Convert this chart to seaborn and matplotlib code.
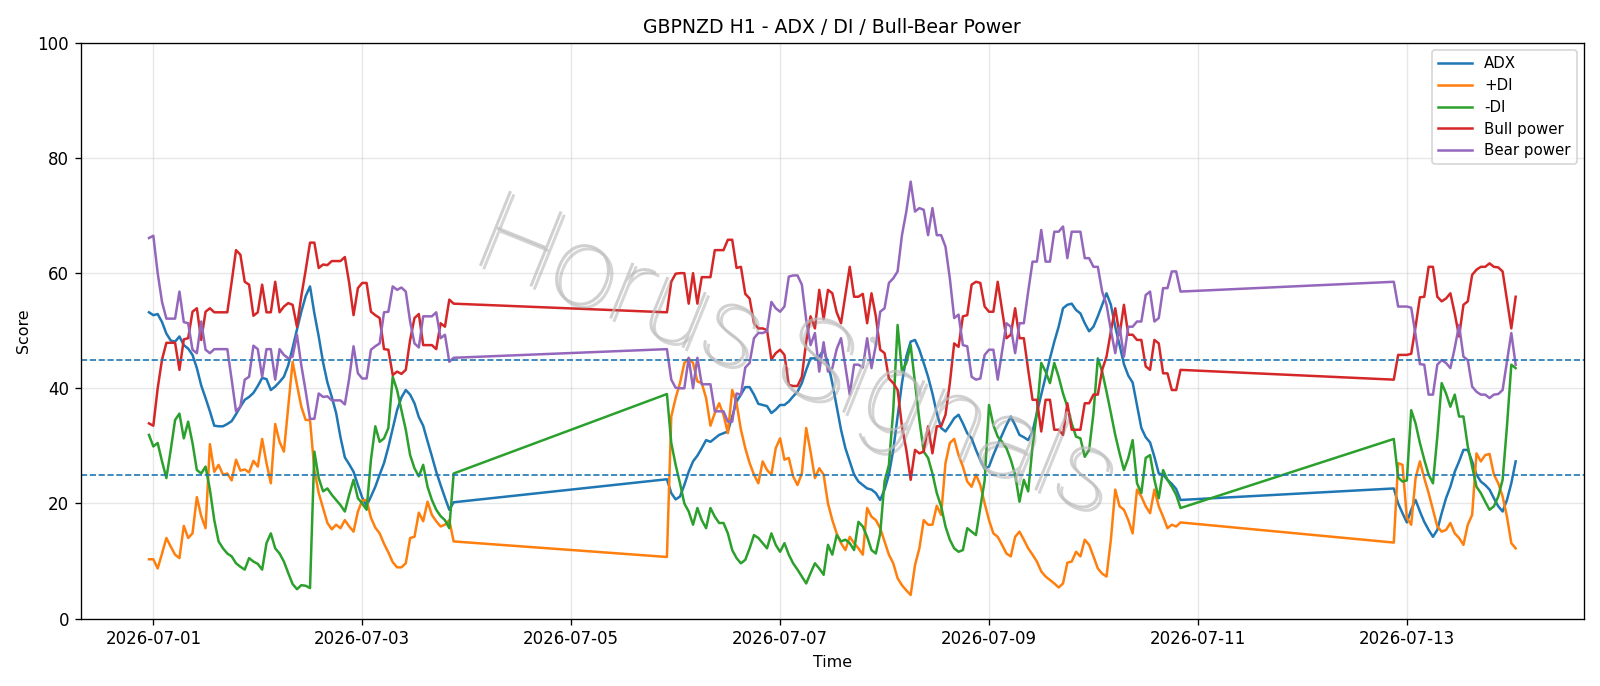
import seaborn as sns
import pandas as pd
import matplotlib
matplotlib.use('Agg')
import matplotlib.pyplot as plt
import matplotlib.dates as mdates
import matplotlib.patheffects as pe

# three trading blocks, hourly bars
seg_starts = ['2026-06-30 23:00', '2026-07-05 22:00', '2026-07-12 21:00']

adx_1 = [53.2, 52.7, 52.9, 51.5, 49.5, 48.3, 48.1, 49.0, 47.5, 46.9, 45.8,
         43.5, 40.5, 38.3, 36.0, 33.5, 33.4, 33.4, 33.8, 34.3, 35.5,
         36.8, 38.0, 38.5, 39.2, 40.4, 41.8, 41.6, 39.7, 40.3, 41.1,
         42.0, 44.0, 47.0, 50.2, 53.3, 56.0, 57.7, 53.0, 49.0, 44.5,
         41.0, 38.5, 35.7, 31.5, 28.0, 26.8, 25.5, 23.2, 21.0, 19.6,
         21.2, 22.9, 25.0, 27.0, 29.8, 33.0, 36.2, 38.4, 39.7, 38.9,
         37.4, 35.0, 33.5, 30.8, 28.2, 25.5, 23.2, 21.0, 18.9, 20.2]
pdi_1 = [10.3, 10.3, 8.7, 11.3, 14.0, 12.5, 11.1, 10.5, 16.1, 14.0, 14.8,
         21.1, 17.8, 15.7, 30.3, 25.5, 26.7, 25.0, 25.2, 24.0, 27.6,
         25.7, 25.9, 25.4, 27.4, 26.4, 31.2, 27.0, 23.5, 33.8, 30.7,
         29.0, 36.8, 44.6, 40.6, 36.8, 34.5, 34.5, 25.8, 21.8, 19.2,
         16.6, 15.5, 16.3, 15.7, 17.1, 16.0, 15.1, 18.6, 20.5, 20.6,
         17.5, 15.8, 14.8, 13.0, 11.5, 9.8, 8.9, 8.9, 9.6, 14.0,
         14.2, 18.4, 16.9, 20.3, 18.0, 16.9, 16.0, 16.3, 17.1, 13.4]
mdi_1 = [31.9, 29.9, 30.5, 27.3, 24.4, 29.3, 34.5, 35.6, 31.3, 34.2, 30.5,
         25.8, 25.2, 26.4, 22.4, 17.1, 13.4, 12.2, 11.3, 10.8, 9.6,
         9.0, 8.5, 10.5, 9.9, 9.5, 8.5, 13.1, 14.8, 12.2, 11.3,
         9.9, 7.9, 6.0, 5.1, 5.8, 5.7, 5.3, 29.0, 24.4, 22.1,
         22.6, 21.5, 20.6, 19.7, 18.6, 21.5, 24.1, 20.9, 20.0, 18.9,
         27.6, 33.4, 30.7, 31.3, 33.1, 42.0, 39.7, 36.2, 32.8, 28.4,
         26.1, 24.7, 26.7, 22.9, 20.6, 18.9, 17.8, 17.1, 15.7, 25.2]
bull_1 = [33.9, 33.5, 40.0, 45.0, 47.9, 47.9, 47.9, 43.2, 48.5, 48.7, 53.3,
          53.9, 48.4, 53.3, 53.9, 53.2, 53.2, 53.2, 53.2, 58.5, 64.0,
          63.2, 58.5, 58.0, 52.6, 53.2, 58.0, 53.2, 53.2, 58.5, 53.2,
          54.2, 54.8, 54.5, 50.7, 56.0, 60.5, 65.3, 65.3, 60.9, 61.5,
          61.4, 62.1, 62.1, 62.1, 62.8, 58.3, 52.7, 57.4, 58.3, 58.3,
          53.3, 52.7, 52.2, 46.8, 46.7, 42.3, 42.9, 42.5, 43.2, 48.4,
          52.2, 52.9, 47.5, 47.5, 47.5, 46.8, 51.3, 50.7, 55.4, 54.7]
bear_1 = [66.1, 66.5, 60.0, 55.0, 52.1, 52.1, 52.1, 56.8, 51.5, 51.3, 46.7,
          46.1, 51.6, 46.7, 46.1, 46.8, 46.8, 46.8, 46.8, 41.5, 36.0,
          36.8, 41.5, 42.0, 47.4, 46.8, 42.0, 46.8, 46.8, 41.5, 46.8,
          45.8, 45.2, 45.5, 49.3, 44.0, 39.5, 34.7, 34.7, 39.1, 38.5,
          38.6, 37.9, 37.9, 37.9, 37.2, 41.7, 47.3, 42.6, 41.7, 41.7,
          46.7, 47.3, 47.8, 53.2, 53.3, 57.7, 57.1, 57.5, 56.8, 51.6,
          47.8, 47.1, 52.5, 52.5, 52.5, 53.2, 48.7, 49.3, 44.6, 45.3]

adx_2 = [24.2, 21.8, 20.7, 21.2, 23.2, 25.5, 27.3, 28.3, 29.6, 31.0,
         30.7, 31.3, 31.9, 32.2, 32.5, 35.1, 37.7, 38.9, 40.2, 40.2,
         38.9, 37.3, 37.1, 36.9, 35.7, 36.3, 37.1, 37.1, 37.7, 38.6,
         39.4, 40.9, 43.2, 45.2, 45.2, 45.5, 46.7, 44.4, 40.9, 36.8,
         32.8, 29.6, 27.3, 25.0, 23.8, 23.2, 22.6, 22.4, 21.8, 20.6,
         22.4, 25.0, 29.3, 35.1, 40.9, 45.5, 48.1, 48.4, 46.7, 44.4,
         42.0, 39.1, 35.7, 33.1, 32.5, 33.6, 34.8, 35.4, 33.9, 32.2,
         31.3, 29.3, 27.5, 26.0, 26.4, 28.4, 30.2, 31.9, 33.6, 35.1,
         33.6, 31.9, 31.5, 31.0, 32.5, 35.7, 38.9, 42.0, 45.2, 48.1,
         50.7, 53.9, 54.5, 54.7, 53.6, 53.0, 51.3, 49.9, 50.7, 52.5,
         54.5, 56.5, 54.5, 50.7, 47.5, 44.2, 42.2, 41.0, 37.0, 33.1,
         31.5, 30.6, 28.1, 25.2, 25.0, 24.1, 23.4, 22.5, 20.6]
pdi_2 = [10.7, 35.1, 38.3, 40.9, 44.4, 45.2, 44.4, 41.2, 40.9, 38.3,
         33.5, 35.7, 37.4, 35.4, 32.2, 39.7, 37.4, 32.8, 29.6, 27.0,
         25.0, 23.5, 27.3, 25.8, 25.0, 29.6, 31.3, 27.6, 27.9, 24.7,
         23.2, 25.2, 33.1, 29.0, 24.4, 26.1, 25.0,
         20.0, 17.1, 14.8, 13.1, 11.9, 14.2, 13.1, 12.2, 11.1, 19.2,
         17.7, 17.1, 15.7, 13.4, 11.1, 9.6, 7.0, 5.8, 4.9, 4.1,
         9.3, 12.2, 17.1, 16.3, 16.3, 19.6, 18.0, 27.0, 30.5, 31.2,
         28.4, 26.4, 23.8, 22.9, 25.0,
         23.2, 20.0, 17.1, 14.8, 14.2, 12.8, 11.3, 10.8, 14.2, 15.1,
         13.7, 12.2, 11.1, 9.9, 8.2, 7.3, 6.7, 6.1, 5.4, 6.1,
         9.7, 9.9, 11.6, 10.8, 13.7, 12.8, 10.8, 8.7, 7.8, 7.3,
         13.7, 22.4, 19.5, 18.9, 17.1, 14.8, 22.4, 21.2, 19.5, 18.3,
         22.4, 19.5, 17.7, 15.7, 16.3, 16.0, 16.7]
mdi_2 = [39.0, 30.5, 26.7, 23.5, 20.0, 18.6, 16.3, 19.2, 17.1, 15.7,
         19.2, 17.7, 16.6, 16.6, 14.8, 11.9, 10.5, 9.6, 10.2, 12.2,
         14.5, 14.0, 13.1, 12.2, 14.8, 12.8, 11.6, 13.1, 11.1, 9.6,
         8.5, 7.3, 6.1, 7.9, 9.6, 8.7, 7.6,
         12.8, 11.1, 14.5, 13.4, 13.7, 13.1, 11.9, 16.8, 16.0, 14.2,
         11.9, 11.3, 14.8, 23.8, 26.7, 36.2, 51.0, 42.9, 44.4, 47.5,
         40.9, 34.5, 29.0, 27.9, 25.2, 21.8, 19.5, 16.0, 13.7, 12.2,
         11.6, 11.9, 15.7, 15.1, 14.5,
         19.2, 24.0, 37.1, 33.6, 31.6, 30.7, 29.6, 27.6, 25.0, 20.3,
         24.1, 22.1, 29.9, 35.7, 44.4, 42.9, 40.9, 44.4, 42.0, 39.1,
         36.8, 33.9, 31.6, 31.3, 28.1, 29.3, 35.7, 45.2, 42.9, 39.4,
         35.7, 31.9, 28.7, 25.8, 27.9, 31.0, 23.5, 21.8, 27.9, 28.4,
         24.1, 20.9, 25.8, 24.1, 22.9, 21.5, 19.2]
bull_2 = [53.2, 58.5, 59.9, 60.0, 60.0, 54.7, 60.0, 54.7, 59.3, 59.3,
          59.3, 64.0, 64.0, 64.0, 65.8, 65.8, 60.9, 61.1, 56.4, 55.6,
          51.3, 50.4, 50.4, 50.1, 45.0, 46.1, 46.7, 45.8, 40.6, 40.4,
          40.4, 42.0, 48.1, 52.5, 50.4, 57.1, 52.0,
          57.1, 56.5, 53.2, 51.3, 56.2, 61.1, 55.9, 55.9, 56.4, 51.3,
          56.5, 52.5, 46.7, 46.1, 41.7, 40.9, 39.7, 33.4, 29.3, 24.1,
          29.3, 28.7, 29.0, 33.4, 28.7, 33.4, 33.4, 35.4, 40.9, 47.8,
          47.2, 52.5, 52.7, 58.0, 58.5,
          58.3, 54.2, 53.3, 53.3, 58.5, 53.6, 48.7, 49.3, 53.9, 48.7,
          48.7, 43.2, 38.0, 38.0, 32.5, 38.0, 38.0, 32.8, 32.8, 31.9,
          37.4, 32.8, 32.8, 32.8, 37.4, 37.4, 38.9, 38.9, 43.2, 45.5,
          49.9, 53.9, 49.3, 54.5, 49.3, 49.3, 48.4, 48.4, 43.8, 43.2,
          48.4, 47.8, 42.6, 42.6, 39.7, 39.7, 43.2]
bear_2 = [46.8, 41.5, 40.1, 40.0, 40.0, 45.3, 40.0, 45.3, 40.7, 40.7,
          40.7, 36.0, 36.0, 36.0, 34.2, 34.2, 39.1, 38.9, 43.6, 44.4,
          48.7, 49.6, 49.6, 49.9, 55.0, 53.9, 53.3, 54.2, 59.4, 59.6,
          59.6, 58.0, 51.9, 47.5, 49.6, 42.9, 48.0,
          42.9, 43.5, 46.8, 48.7, 43.8, 38.9, 44.1, 44.1, 43.6, 48.7,
          43.5, 47.5, 53.3, 53.9, 58.3, 59.1, 60.3, 66.6, 70.7, 75.9,
          70.7, 71.3, 71.0, 66.6, 71.3, 66.6, 66.6, 64.6, 59.1, 52.2,
          52.8, 47.5, 47.3, 42.0, 41.5,
          41.7, 45.8, 46.7, 46.7, 41.5, 46.4, 51.3, 50.7, 46.1, 51.3,
          51.3, 56.8, 62.0, 62.0, 67.5, 62.0, 62.0, 67.2, 67.2, 68.1,
          62.6, 67.2, 67.2, 67.2, 62.6, 62.6, 61.1, 61.1, 56.8, 54.5,
          50.1, 46.1, 50.7, 45.5, 50.7, 50.7, 51.6, 51.6, 56.2, 56.8,
          51.6, 52.2, 57.4, 57.4, 60.3, 60.3, 56.8]

adx_3 = [22.6, 20.0, 18.3, 16.7, 18.9, 20.6, 18.6, 16.8, 15.4, 14.2,
         15.4, 18.3, 20.9, 22.9, 25.5, 27.3, 29.3, 29.3, 27.3, 25.0,
         23.8, 23.2, 22.4, 20.9, 19.5, 18.6, 20.6, 23.5, 27.3]
pdi_3 = [13.2, 27.0, 26.7, 17.5, 16.3, 24.4, 27.3, 24.4, 21.8, 18.9,
         16.0, 15.1, 15.4, 16.6, 14.8, 14.0, 12.8, 16.3, 18.0, 28.7,
         27.3, 28.4, 28.6, 25.0, 23.5, 21.2, 17.7, 13.1, 12.2]
mdi_3 = [31.2, 24.5, 23.8, 24.0, 36.2, 33.9, 30.5, 27.6, 25.0, 23.5,
         31.6, 40.9, 39.1, 36.8, 38.9, 35.1, 35.1, 29.9, 26.4, 22.9,
         21.8, 20.3, 18.9, 19.5, 21.2, 24.1, 33.4, 44.1, 43.5]
bull_3 = [41.5, 45.8, 45.8, 45.8, 46.0, 50.7, 55.8, 55.9, 61.1, 61.1,
          55.9, 55.1, 55.6, 56.5, 53.0, 49.0, 54.5, 55.1, 59.7, 60.6,
          61.1, 61.1, 61.7, 61.1, 61.0, 60.3, 55.4, 50.4, 55.9]
bear_3 = [58.5, 54.2, 54.2, 54.2, 54.0, 49.3, 44.2, 44.1, 38.9, 38.9,
          44.1, 44.9, 44.4, 43.5, 47.0, 51.0, 45.5, 44.9, 40.3, 39.4,
          38.9, 38.9, 38.3, 38.9, 39.0, 39.7, 44.6, 49.6, 44.1]

series = [('ADX', [adx_1, adx_2, adx_3], '#1f77b4'),
          ('+DI', [pdi_1, pdi_2, pdi_3], '#ff7f0e'),
          ('-DI', [mdi_1, mdi_2, mdi_3], '#2ca02c'),
          ('Bull power', [bull_1, bull_2, bull_3], '#d62728'),
          ('Bear power', [bear_1, bear_2, bear_3], '#9467bd')]

times = []
for start, seg in zip(seg_starts, [adx_1, adx_2, adx_3]):
    times.extend(pd.date_range(start, periods=len(seg), freq='h'))

df = pd.DataFrame({'Time': times})
for name, segs, _ in series:
    df[name] = segs[0] + segs[1] + segs[2]

fig, ax = plt.subplots(figsize=(1600 / 120, 686 / 120), dpi=120)
fig.subplots_adjust(left=0.0504, right=0.990, top=0.9375, bottom=0.0983)

for name, _, col in series:
    sns.lineplot(data=df, x='Time', y=name, ax=ax, color=col, label=name, linewidth=1.5)

ax.axhline(45, ls='--', color='#1f77b4', lw=1)
ax.axhline(25, ls='--', color='#1f77b4', lw=1)

ax.set_ylim(0, 100)
ax.set_title('GBPNZD H1 - ADX / DI / Bull-Bear Power', fontsize=11.3)
ax.set_xlabel('Time', fontsize=9.5)
ax.set_ylabel('Score', fontsize=9.5)
ax.xaxis.set_major_locator(mdates.DayLocator(bymonthday=range(1, 32, 2)))
ax.xaxis.set_major_formatter(mdates.DateFormatter('%Y-%m-%d'))
ax.grid(True, alpha=0.3)
ax.legend(loc='upper right', fontsize=9, labelspacing=0.45, handlelength=2.25)

# watermark
fig.text(0.497, 0.475, 'Horus Signals', fontsize=68, family=['Roboto', 'DejaVu Sans'],
         fontweight='light', color='#bdbdbd', alpha=0.7, rotation=-22,
         ha='center', va='center',
         path_effects=[pe.withSimplePatchShadow(offset=(2, -2), shadow_rgbFace='#888888', alpha=0.35)])

fig.savefig('out.png')
